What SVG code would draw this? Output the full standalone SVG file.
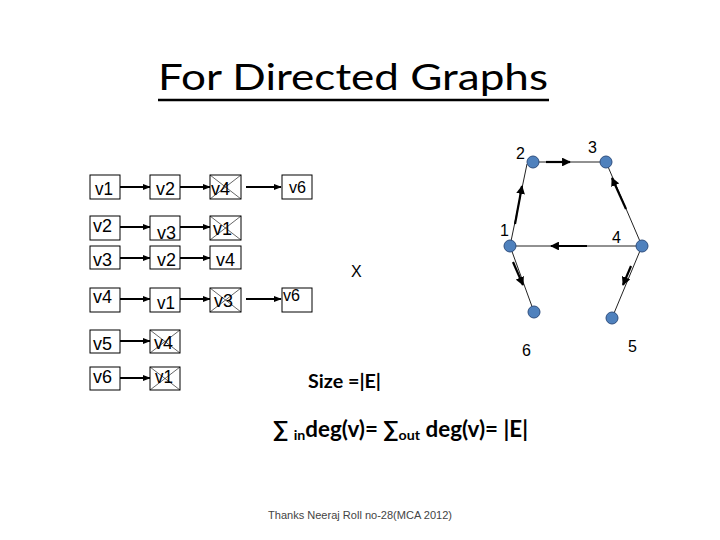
<svg xmlns="http://www.w3.org/2000/svg" width="720" height="540" viewBox="0 0 720 540">
<defs>
<style>
.box{fill:#fff;stroke:#000;stroke-width:1}
.x{stroke:#000;stroke-width:0.6}
.t{font-family:"Liberation Sans",Arial,sans-serif;font-size:19px;fill:#000}
.ts{font-family:"Liberation Sans",Arial,sans-serif;font-size:16px;fill:#000}
.la{stroke:#000;stroke-width:2;marker-end:url(#ah)}
.e{stroke:#222;stroke-width:1;fill:none}
.eb{stroke:#000;stroke-width:2.2;marker-end:url(#gh)}
.node{fill:#4F81BD;stroke:#2F4F7F;stroke-width:1}
.num{font-family:"Liberation Sans",Arial,sans-serif;font-size:16px;fill:#000}
.b{font-family:Lato,"Open Sans",sans-serif;font-weight:bold;fill:#000}
</style>
<marker id="ah" viewBox="0 0 10 10" refX="9" refY="5" markerWidth="4" markerHeight="4" orient="auto" markerUnits="strokeWidth"><path d="M0,1 L10,5 L0,9 z" fill="#000"/></marker>
<marker id="gh" viewBox="0 0 10 10" refX="9" refY="5" markerWidth="4" markerHeight="4" orient="auto" markerUnits="strokeWidth"><path d="M0,0 L10,5 L0,10 z" fill="#000"/></marker>
</defs>
<rect width="720" height="540" fill="#fff"/>

<g id="title">
<text x="158" y="90" font-family="Lato,'Open Sans',sans-serif" font-size="37" textLength="390" lengthAdjust="spacingAndGlyphs">For Directed Graphs</text>
<line x1="158" y1="100" x2="549" y2="100" stroke="#000" stroke-width="2.5"/>
</g>

<g id="connectors">
<line class="la" x1="120" y1="187" x2="150" y2="187"/>
<line class="la" x1="180" y1="187" x2="210" y2="187"/>
<line class="la" x1="246" y1="187" x2="281" y2="187"/>
<line class="la" x1="120" y1="227" x2="150" y2="227"/>
<line class="la" x1="180" y1="227" x2="210" y2="227"/>
<line class="la" x1="120" y1="258" x2="150" y2="258"/>
<line class="la" x1="180" y1="258" x2="210" y2="258"/>
<line class="la" x1="120" y1="299" x2="150" y2="299"/>
<line class="la" x1="180" y1="299" x2="210" y2="299"/>
<line class="la" x1="246" y1="299" x2="281" y2="299"/>
<line class="la" x1="120" y1="341" x2="150" y2="341"/>
<line class="la" x1="120" y1="378" x2="150" y2="378"/>

<line class="e" x1="510" y1="246" x2="527" y2="164"/>
<line class="e" x1="533" y1="162" x2="606" y2="162"/>
<line class="e" x1="642" y1="246" x2="606" y2="162"/>
<line class="e" x1="510" y1="246" x2="642" y2="246"/>
<line class="e" x1="510" y1="246" x2="534" y2="312"/>
<line class="e" x1="642" y1="246" x2="612" y2="318"/>
<line class="eb" x1="515" y1="224" x2="522" y2="186"/>
<line class="eb" x1="546" y1="162" x2="570" y2="162"/>
<line class="eb" x1="626" y1="209" x2="612" y2="178"/>
<line class="eb" x1="587" y1="246" x2="551" y2="246"/>
<line class="eb" x1="513" y1="262" x2="523" y2="285"/>
<line class="eb" x1="631" y1="266" x2="623" y2="285"/>
</g>

<g id="list-row1">
<rect class="box" x="90" y="175" width="30" height="24"/><text class="t" x="95" y="195" textLength="18" lengthAdjust="spacingAndGlyphs">v1</text>
<rect class="box" x="150" y="175" width="30" height="24"/><text class="t" x="156" y="195" textLength="19" lengthAdjust="spacingAndGlyphs">v2</text>
<rect class="box" x="210" y="175" width="31" height="24"/><text class="t" x="211" y="195" textLength="19" lengthAdjust="spacingAndGlyphs">v4</text>
<line class="x" x1="210" y1="175" x2="241" y2="199"/><line class="x" x1="241" y1="175" x2="210" y2="199"/>
<rect class="box" x="282" y="175" width="30" height="24"/><text class="ts" x="289" y="193" textLength="17" lengthAdjust="spacingAndGlyphs">v6</text>
</g>
<g id="list-row2">
<rect class="box" x="90" y="216" width="30" height="24"/><text class="t" x="93" y="232" textLength="19" lengthAdjust="spacingAndGlyphs">v2</text>
<rect class="box" x="150" y="216" width="30" height="24"/><text class="t" x="157" y="239" textLength="19" lengthAdjust="spacingAndGlyphs">v3</text>
<rect class="box" x="210" y="216" width="31" height="24"/><text class="t" x="213" y="235" textLength="19" lengthAdjust="spacingAndGlyphs">v1</text>
<line class="x" x1="210" y1="216" x2="241" y2="240"/><line class="x" x1="241" y1="216" x2="210" y2="240"/>
</g>
<g id="list-row3">
<rect class="box" x="90" y="246" width="30" height="23"/><text class="t" x="93" y="266" textLength="19" lengthAdjust="spacingAndGlyphs">v3</text>
<rect class="box" x="150" y="246" width="30" height="23"/><text class="t" x="157" y="266" textLength="19" lengthAdjust="spacingAndGlyphs">v2</text>
<rect class="box" x="210" y="246" width="31" height="23"/><text class="t" x="216" y="266" textLength="19" lengthAdjust="spacingAndGlyphs">v4</text>
</g>
<g id="list-row4">
<rect class="box" x="90" y="288" width="30" height="24"/><text class="t" x="93" y="303" textLength="19" lengthAdjust="spacingAndGlyphs">v4</text>
<rect class="box" x="150" y="288" width="30" height="24"/><text class="t" x="157" y="309" textLength="18" lengthAdjust="spacingAndGlyphs">v1</text>
<rect class="box" x="210" y="288" width="31" height="24"/><text class="t" x="214" y="307" textLength="19" lengthAdjust="spacingAndGlyphs">v3</text>
<line class="x" x1="210" y1="288" x2="241" y2="312"/><line class="x" x1="241" y1="288" x2="210" y2="312"/>
<rect class="box" x="282" y="288" width="30" height="24"/><text class="ts" x="283" y="301" textLength="17" lengthAdjust="spacingAndGlyphs">v6</text>
</g>
<g id="list-row5">
<rect class="box" x="90" y="330" width="30" height="23"/><text class="t" x="93" y="350" textLength="19" lengthAdjust="spacingAndGlyphs">v5</text>
<rect class="box" x="150" y="330" width="30" height="23"/><text class="t" x="154" y="349" textLength="19" lengthAdjust="spacingAndGlyphs">v4</text>
<line class="x" x1="150" y1="330" x2="180" y2="353"/><line class="x" x1="180" y1="330" x2="150" y2="353"/>
</g>
<g id="list-row6">
<rect class="box" x="90" y="367" width="30" height="23"/><text class="t" x="93" y="383" textLength="19" lengthAdjust="spacingAndGlyphs">v6</text>
<rect class="box" x="150" y="367" width="30" height="23"/><text class="t" x="155" y="383" textLength="18" lengthAdjust="spacingAndGlyphs">v1</text>
<line class="x" x1="150" y1="367" x2="180" y2="390"/><line class="x" x1="180" y1="367" x2="150" y2="390"/>
</g>

<g id="node1"><circle class="node" cx="510" cy="246" r="6"/><text class="num" x="500" y="236" font-size="18">1</text></g>
<g id="node2"><circle class="node" cx="533" cy="162" r="6"/><text class="num" x="516" y="159">2</text></g>
<g id="node3"><circle class="node" cx="606" cy="162" r="6"/><text class="num" x="588" y="153">3</text></g>
<g id="node4"><circle class="node" cx="642" cy="246" r="6"/><text class="num" x="612" y="243" font-size="18">4</text></g>
<g id="node5"><circle class="node" cx="612" cy="318" r="6"/><text class="num" x="628" y="352">5</text></g>
<g id="node6"><circle class="node" cx="534" cy="312" r="6"/><text class="num" x="522" y="356">6</text></g>

<text class="num" x="351" y="277">X</text>
<text class="b" x="308" y="388" font-size="18" textLength="73" lengthAdjust="spacingAndGlyphs">Size =|E|</text>
<text class="b" x="273" y="437" font-size="22" textLength="255" lengthAdjust="spacingAndGlyphs">∑ <tspan font-size="14" dy="3">in</tspan><tspan dy="-3">deg(v)= ∑</tspan><tspan font-size="14" dy="3">out</tspan><tspan dy="-3"> deg(v)= |E|</tspan></text>
<text x="268" y="519" font-family="'Liberation Sans',Arial,sans-serif" font-size="11" fill="#444" textLength="184" lengthAdjust="spacingAndGlyphs">Thanks Neeraj  Roll no-28(MCA 2012)</text>
</svg>
